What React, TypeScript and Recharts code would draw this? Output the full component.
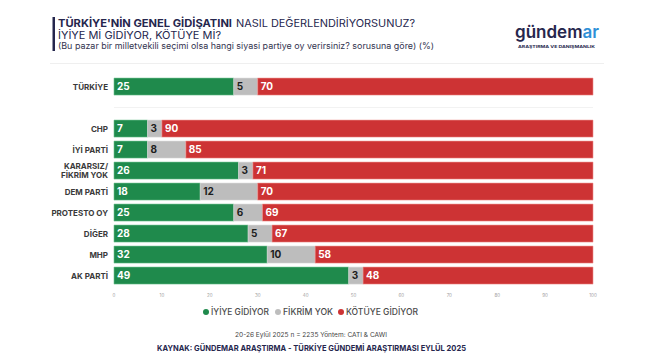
import React from "react";
import { BarChart, Bar, XAxis, YAxis, LabelList, ReferenceLine } from "recharts";

const categories = ["TÜRKİYE", " ", "CHP", "İYİ PARTİ", "KARARSIZ/\nFİKRİM YOK", "DEM PARTİ", "PROTESTO OY", "DİĞER", "MHP", "AK PARTİ"];
const iyiye = [25, null, 7, 7, 26, 18, 25, 28, 32, 49];
const fikrimYok = [5, null, 3, 8, 3, 12, 6, 5, 10, 3];
const kotuye = [70, null, 90, 85, 71, 70, 69, 67, 58, 48];
const xTicks = [0, 10, 20, 30, 40, 50, 60, 70, 80, 90, 100];
const seriesNames = ["İYİYE GİDİYOR", "FİKRİM YOK", "KÖTÜYE GİDİYOR"];

const GREEN = "#1f8a4c";
const GRAY = "#bdbdbd";
const RED = "#cd3334";
const NAVY = "#25264d";
const BLUE = "#2f8fd6";

const data = categories.map((c, i) => ({
  name: c,
  iyiye: iyiye[i],
  fikrim: fikrimYok[i],
  kotuye: kotuye[i],
}));

const FONT = "Inter, 'Open Sans', sans-serif";

const YTick = (props: any) => {
  const { x, y, payload } = props;
  const lines = String(payload.value).split("\n");
  const lh = 9.5;
  const start = -((lines.length - 1) * lh) / 2;
  return (
    <g>
      {lines.map((l: string, i: number) => (
        <text
          key={i}
          x={x + 2}
          y={y + start + i * lh}
          dy={3}
          textAnchor="end"
          fontFamily={FONT}
          fontWeight={700}
          fontSize={8}
          fill="#3a3a3a"
        >
          {l}
        </text>
      ))}
    </g>
  );
};

const labelStyle = { fontFamily: FONT, fontWeight: 700, fontSize: 10 };
const legendColors = [GREEN, GRAY, RED];
const legendDotX = [206, 278, 341];
const legendTextX = [211, 283, 346];
const legendTextW = [58, 50, 72];

export default function App() {
  return (
    <div style={{ position: "absolute", left: 0, top: 0, width: 658, height: 357, background: "#fff", fontFamily: FONT }}>
      <div style={{ position: "absolute", left: 0, top: 0 }}>
        <BarChart
          width={658}
          height={311}
          data={data}
          layout="vertical"
          margin={{ top: 76, right: 65, bottom: 10, left: 0 }}
          barCategoryGap="10%"
        >
          <XAxis
            type="number"
            domain={[0, 100]}
            ticks={xTicks}
            axisLine={false}
            tickLine={false}
            height={15}
            tick={{ fontSize: 4.5, fill: "#a0a0a0", fontFamily: FONT }}
            interval={0}
          />
          <YAxis
            type="category"
            dataKey="name"
            width={114}
            axisLine={false}
            tickLine={false}
            tick={<YTick />}
            interval={0}
          />
          <ReferenceLine y=" " stroke="#f2f2f2" strokeWidth={1} />
          <Bar dataKey="iyiye" stackId="a" fill={GREEN} stroke="#6cc08f" strokeWidth={0.6} isAnimationActive={false} name={seriesNames[0]}>
            <LabelList dataKey="iyiye" position="insideLeft" offset={3} fill="#ffffff" style={labelStyle} />
          </Bar>
          <Bar dataKey="fikrim" stackId="a" fill={GRAY} stroke="#d8d8d8" strokeWidth={0.6} isAnimationActive={false} name={seriesNames[1]}>
            <LabelList dataKey="fikrim" position="insideLeft" offset={3} fill="#1e1e1e" style={labelStyle} />
          </Bar>
          <Bar dataKey="kotuye" stackId="a" fill={RED} stroke="#ef8f8c" strokeWidth={0.6} isAnimationActive={false} name={seriesNames[2]}>
            <LabelList dataKey="kotuye" position="insideLeft" offset={3} fill="#ffffff" style={labelStyle} />
          </Bar>
        </BarChart>
      </div>

      <svg width={658} height={357} style={{ position: "absolute", left: 0, top: 0, pointerEvents: "none" }} fontFamily={FONT}>
        <defs>
          <linearGradient id="logoFill" gradientUnits="userSpaceOnUse" x1={515} y1={0} x2={599} y2={0}>
            <stop offset="0" stopColor={NAVY} />
            <stop offset="0.8" stopColor={NAVY} />
            <stop offset="0.8" stopColor={BLUE} />
            <stop offset="1" stopColor={BLUE} />
          </linearGradient>
        </defs>
        <rect x={52.5} y={17} width={2.5} height={34} fill={NAVY} />
        <text x={58} y={26.5} fontSize={10.3} fill={NAVY} fontWeight={700} textLength={174} lengthAdjust="spacingAndGlyphs">TÜRKİYE'NİN GENEL GİDİŞATINI</text>
        <text x={236} y={26.5} fontSize={10.3} fill={NAVY} textLength={179} lengthAdjust="spacingAndGlyphs">NASIL DEĞERLENDİRİYORSUNUZ?</text>
        <text x={58} y={38.5} fontSize={10.3} fill={NAVY} textLength={163} lengthAdjust="spacingAndGlyphs">İYİYE Mİ GİDİYOR, KÖTÜYE Mİ?</text>
        <text x={58} y={48.5} fontSize={8.3} fill="#33344f" textLength={376} lengthAdjust="spacingAndGlyphs">(Bu pazar bir milletvekili seçimi olsa hangi siyasi partiye oy verirsiniz? sorusuna göre) (%)</text>

        <text x={515} y={38} fontSize={17} fontWeight={600} fill="url(#logoFill)" textLength={84} lengthAdjust="spacingAndGlyphs">gündemar</text>
        <text x={518} y={47.5} fontSize={3.4} fontWeight={700} fill={NAVY} textLength={77} lengthAdjust="spacingAndGlyphs">ARAŞTIRMA VE DANIŞMANLIK</text>

        <line x1={50} x2={604} y1={63.5} y2={63.5} stroke="#efefef" strokeWidth={1} />

        {seriesNames.map((n, i) => (
          <g key={n}>
            <circle cx={legendDotX[i]} cy={312} r={3} fill={legendColors[i]} />
            <text x={legendTextX[i]} y={315.2} fontSize={8.6} fontWeight={500} fill="#4a4a4a" textLength={legendTextW[i]} lengthAdjust="spacingAndGlyphs">{n}</text>
          </g>
        ))}

        <text x={235} y={337} fontSize={6.3} fill="#444" textLength={152} lengthAdjust="spacingAndGlyphs">20-26 Eylül 2025 n = 2235 Yöntem: CATI &amp; CAWI</text>
        <text x={157} y={350.5} fontSize={7.6} fontWeight={700} fill={NAVY} textLength={309} lengthAdjust="spacingAndGlyphs">KAYNAK: GÜNDEMAR ARAŞTIRMA - TÜRKİYE GÜNDEMİ ARAŞTIRMASI EYLÜL 2025</text>
      </svg>
    </div>
  );
}
